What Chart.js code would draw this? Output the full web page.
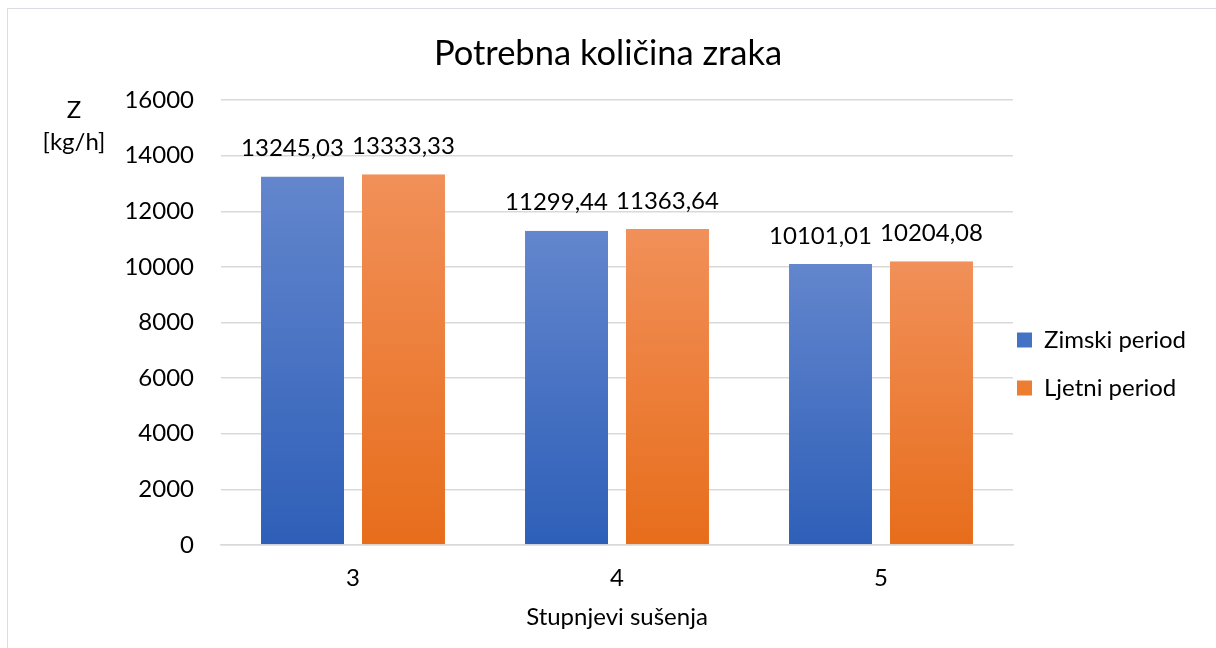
<!doctype html>
<html lang="hr">
<head>
  <meta charset="utf-8">
  <title>Potrebna količina zraka</title>
  <script src="https://cdn.jsdelivr.net/npm/chart.js"></script>
  <style>
    html, body { margin: 0; padding: 0; background: #fff; }
    #wrap { position: relative; width: 1216px; height: 648px; }
    #frame {
      position: absolute; left: 7px; top: 8px; width: 1220px; height: 700px;
      border: 1.5px solid #d9dce2; pointer-events: none;
    }
  </style>
</head>
<body>
  <div id="wrap">
    <canvas id="chart" width="1216" height="648"></canvas>
    <div id="frame"></div>
  </div>
  <script>
    // podaci s grafa
    var kategorije = ['3', '4', '5'];
    var zimski = [13245.03, 11299.44, 10101.01];
    var ljetni = [13333.33, 11363.64, 10204.08];
    var yTicks = [0, 2000, 4000, 6000, 8000, 10000, 12000, 14000, 16000];

    var FONT = 'Lato';
    var VEL = 24;
    var plavaVrh = '#6386cd', plavaDno = '#2e5fb8', plava = '#4472c4';
    var narVrh = '#f19059', narDno = '#e76d1b', nar = '#ed7d31';

    function gradijent(vrh, dno) {
      return function(c) {
        var chart = c.chart;
        if (!chart.chartArea || c.raw === undefined) return vrh;
        var ys = chart.scales.y;
        var top = ys.getPixelForValue(c.raw);
        var bottom = ys.getPixelForValue(0);
        var g = chart.ctx.createLinearGradient(0, top, 0, bottom);
        g.addColorStop(0, vrh);
        g.addColorStop(1, dno);
        return g;
      };
    }

    function fmt(v) { return v.toFixed(2).replace('.', ','); }

    // oznake vrijednosti iznad stupaca
    var oznake = {
      id: 'oznake',
      afterDatasetsDraw: function(chart) {
        var ctx = chart.ctx;
        ctx.save();
        ctx.font = VEL + 'px ' + FONT;
        ctx.fillStyle = '#000';
        ctx.textAlign = 'center';
        ctx.textBaseline = 'middle';
        chart.data.datasets.forEach(function(ds, di) {
          var meta = chart.getDatasetMeta(di);
          meta.data.forEach(function(el, i) {
            var dx = di === 0 ? -10 : 0;
            ctx.fillText(fmt(ds.data[i]), el.x + dx, el.y - 28);
          });
        });
        ctx.restore();
      }
    };

    // naslov osi Y (vodoravno, kao u Excelu) + pomak legende
    var osY = {
      id: 'osY',
      afterLayout: function(chart) {
        var lg = chart.legend;
        lg.top += 48; lg.bottom += 48;
        lg.left -= 20; lg.right -= 20;
      },
      afterDraw: function(chart) {
        var ctx = chart.ctx;
        ctx.save();
        ctx.font = VEL + 'px ' + FONT;
        ctx.fillStyle = '#000';
        ctx.textAlign = 'center';
        ctx.textBaseline = 'middle';
        ctx.fillText('Z', 74, 110);
        ctx.fillText('[kg/h]', 74, 142);
        ctx.restore();
      }
    };

    var ctx = document.getElementById('chart').getContext('2d');
    var chart = new Chart(ctx, {
      type: 'bar',
      data: {
        labels: kategorije,
        datasets: [{
          label: 'Zimski period',
          data: zimski,
          backgroundColor: gradijent(plavaVrh, plavaDno),
          borderColor: 'rgba(0,0,0,0)',
          borderWidth: { left: 9, right: 9, top: 0, bottom: 0 },
          borderSkipped: false
        }, {
          label: 'Ljetni period',
          data: ljetni,
          backgroundColor: gradijent(narVrh, narDno),
          borderColor: 'rgba(0,0,0,0)',
          borderWidth: { left: 9, right: 9, top: 0, bottom: 0 },
          borderSkipped: false
        }]
      },
      options: {
        responsive: false,
        animation: false,
        devicePixelRatio: 1,
        categoryPercentage: 0.765,
        barPercentage: 1,
        layout: { padding: { left: 0, right: 0, top: 0, bottom: 16 } },
        plugins: {
          title: {
            display: true,
            text: 'Potrebna količina zraka',
            color: '#000',
            font: { family: FONT, size: 34.5, weight: 'normal' },
            padding: { top: 33, bottom: 25.6 }
          },
          legend: {
            position: 'right',
            maxWidth: 203,
            labels: {
              color: '#000',
              font: { family: FONT, size: VEL },
              boxWidth: 15,
              boxHeight: 15,
              padding: 24,
              generateLabels: function(chart) {
                var items = Chart.defaults.plugins.legend.labels.generateLabels(chart);
                var boje = [plava, nar];
                items.forEach(function(it, i) {
                  it.fillStyle = boje[i];
                  it.strokeStyle = 'rgba(0,0,0,0)';
                  it.lineWidth = 0;
                });
                return items;
              }
            }
          },
          tooltip: { enabled: false }
        },
        scales: {
          x: {
            afterFit: function(s) { s.height = 87; },
            grid: { display: false, drawTicks: false },
            border: { color: '#d9d9d9', width: 1.5 },
            ticks: { color: '#000', font: { family: FONT, size: VEL }, padding: 19 },
            title: {
              display: true,
              text: 'Stupnjevi sušenja',
              color: '#000',
              font: { family: FONT, size: VEL },
              padding: { top: 12, bottom: 0 }
            }
          },
          y: {
            min: 0,
            max: 16000,
            afterBuildTicks: function(s) { s.ticks = yTicks.map(function(v) { return { value: v }; }); },
            afterFit: function(s) { s.width = 221; },
            grid: { color: '#d9d9d9', lineWidth: 1.5, drawTicks: false },
            border: { display: false },
            ticks: {
              color: '#000',
              font: { family: FONT, size: VEL },
              padding: 27,
              callback: function(v) { return String(v); }
            }
          }
        }
      },
      plugins: [oznake, osY]
    });
  </script>
</body>
</html>
